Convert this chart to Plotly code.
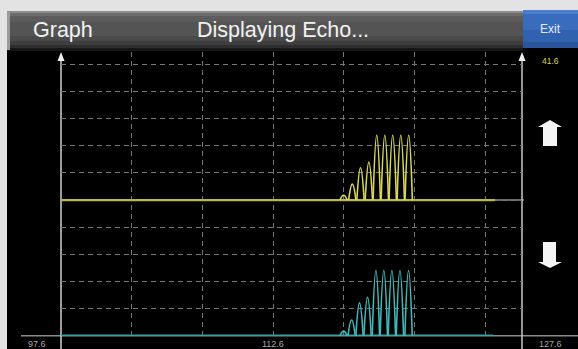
import numpy as np
import plotly.graph_objects as go

# ---- data -------------------------------------------------------------
x_start = 97.6
x_mid = 112.6
x_end = 127.6
x_tick_labels = ["97.6", "112.6", "127.6"]
gain_label = "41.6"

# upper (yellow) echo channel
yellow_offset = 5.0
yellow_trace_end = 128.3
yellow_lobe_x = [117.59, 118.21, 118.79, 119.38, 119.94, 120.51, 121.07, 121.64, 122.20]
yellow_lobe_amp = [0.18, 0.59, 1.19, 1.40, 2.39, 2.39, 2.39, 2.39, 2.39]

# lower (teal) echo channel
teal_offset = 0.0
teal_trace_end = 128.17
teal_lobe_x = [117.59, 118.16, 118.72, 119.29, 119.88, 120.44, 121.01, 121.58, 122.19]
teal_lobe_amp = [0.18, 0.59, 1.22, 1.42, 2.41, 2.41, 2.41, 2.41, 2.41]

lobe_half_width = 0.26

# ---- canvas geometry (pixels) ----------------------------------------
W, H = 578, 349
ML, MR, MT, MB = 61, 56, 52, 13
PW, PH = W - ML - MR, H - MT - MB
X_RANGE = [97.6, 97.6 + PW / 70.67 * 5]
Y_RANGE = [0, PH / 27.17]


def px(x):
    return (x - ML) / PW


def py(y):
    return (H - MB - y) / PH


def lobes(centers, amps, base):
    xs, ys = [], []
    for c, a in zip(centers, amps):
        xs += [c - lobe_half_width, c, c + lobe_half_width, None]
        ys += [base, base + a, base, None]
    return xs, ys


fig = go.Figure()

YELLOW = "#d8d858"
TEAL = "#45b8b8"

# baselines
fig.add_trace(go.Scatter(x=[x_start, yellow_trace_end], y=[yellow_offset, yellow_offset],
                         mode="lines", line=dict(color="#b9b948", width=2.2),
                         hoverinfo="skip", showlegend=False))
fig.add_trace(go.Scatter(x=[x_start, teal_trace_end], y=[teal_offset, teal_offset],
                         mode="lines", line=dict(color="#35a3a3", width=3),
                         hoverinfo="skip", showlegend=False))

# echo lobes
yx, yy = lobes(yellow_lobe_x, yellow_lobe_amp, yellow_offset)
fig.add_trace(go.Scatter(x=yx, y=yy, mode="lines", connectgaps=False,
                         line=dict(color=YELLOW, width=1.6, shape="spline", smoothing=1.3),
                         hoverinfo="skip", showlegend=False))
tx, ty = lobes(teal_lobe_x, teal_lobe_amp, teal_offset)
fig.add_trace(go.Scatter(x=tx, y=ty, mode="lines", connectgaps=False,
                         line=dict(color=TEAL, width=1.6, shape="spline", smoothing=1.3),
                         hoverinfo="skip", showlegend=False))

shapes = []


def rect(x0, y0, x1, y1, color, layer="above"):
    shapes.append(dict(type="rect", xref="paper", yref="paper",
                       x0=px(x0), x1=px(x1), y0=py(y1), y1=py(y0),
                       fillcolor=color, line=dict(width=0), layer=layer))


def hline(x0, x1, y, color, width):
    shapes.append(dict(type="line", xref="paper", yref="paper",
                       x0=px(x0), x1=px(x1), y0=py(y), y1=py(y),
                       line=dict(color=color, width=width), layer="below"))


def vline(x, y0, y1, color, width):
    shapes.append(dict(type="line", xref="paper", yref="paper",
                       x0=px(x), x1=px(x), y0=py(y0), y1=py(y1),
                       line=dict(color=color, width=width), layer="below"))


def poly(points, color):
    path = "M " + " L ".join(f"{px(a)},{py(b)}" for a, b in points) + " Z"
    shapes.append(dict(type="path", xref="paper", yref="paper", path=path,
                       fillcolor=color, line=dict(width=0), layer="above"))


# outer light frame
rect(0, 0, W, 11, "#e3e3e3")
rect(0, 0, 7, H, "#e3e3e3")

# title bar with vertical shading
bands = [(11, 13, "#8c8c8c"), (13, 16, "#6c6c6c"), (16, 22, "#5c5c5c"),
         (22, 36, "#545454"), (36, 41, "#4a4a4a"), (41, 45, "#3e3e3e"),
         (45, 48, "#2e2e2e"), (48, 51, "#161616")]
for y0, y1, c in bands:
    rect(7, y0, 523, y1, c)
rect(7, 12, 10, 50, "#9a9a9a")

# exit button
btn = [(10, 14, "#4a7fd0"), (14, 30, "#3a6cbd"), (30, 42, "#3162b0"), (42, 48, "#2a559c")]
for y0, y1, c in btn:
    rect(523, y0, W, y1, c)

# axes frame lines
hline(21, W, 335.7, "#8c8c8c", 1.5)
hline(61, 524, 200, "#8c8c8c", 1.5)
vline(61, 56, H, "#d0d0d0", 1.5)
vline(522, 56, H, "#c8c8c8", 1.5)

# axis arrowheads
for ax in (61, 522):
    poly([(ax - 3.5, 61), (ax, 52), (ax + 3.5, 61)], "#f0f0f0")

# gain up / down arrows
poly([(538, 127), (550, 120), (562, 127), (557, 127), (557, 146), (543, 146), (543, 127)], "#f4f4f4")
poly([(543, 242), (556, 242), (556, 262), (562, 262), (550, 268), (538, 262), (543, 262)], "#f4f4f4")

annotations = [
    dict(text="Graph", x=px(31), y=py(30), xanchor="left", yanchor="middle",
         font=dict(family="Liberation Sans", size=21.5, color="#f2f2f2")),
    dict(text="Displaying Echo...", x=px(195), y=py(30), xanchor="left", yanchor="middle",
         font=dict(family="Liberation Sans", size=21.5, color="#f2f2f2")),
    dict(text="Exit", x=px(550), y=py(29), xanchor="center", yanchor="middle",
         font=dict(family="Liberation Sans", size=12, color="#e4ebf7")),
    dict(text=gain_label, x=px(550), y=py(61), xanchor="center", yanchor="middle",
         font=dict(family="Liberation Sans", size=8.5, color="#d8d84a")),
    dict(text=x_tick_labels[0], x=px(37), y=py(344), xanchor="center", yanchor="middle",
         font=dict(family="Liberation Sans", size=9, color="#a8a8a8")),
    dict(text=x_tick_labels[1], x=x_mid, xref="x", y=py(344), xanchor="center", yanchor="middle",
         font=dict(family="Liberation Sans", size=9, color="#a8a8a8")),
    dict(text=x_tick_labels[2], x=px(550), y=py(344), xanchor="center", yanchor="middle",
         font=dict(family="Liberation Sans", size=9, color="#a8a8a8")),
]
for a in annotations:
    a.setdefault("xref", "paper")
    a["yref"] = "paper"
    a["showarrow"] = False

fig.update_layout(
    width=W, height=H,
    margin=dict(l=ML, r=MR, t=MT, b=MB, pad=0),
    paper_bgcolor="#000000", plot_bgcolor="#000000",
    shapes=shapes, annotations=annotations,
    xaxis=dict(range=X_RANGE, tick0=x_start, dtick=5, showgrid=True,
               gridcolor="#777777", gridwidth=1, griddash="5px,4px",
               showticklabels=False, zeroline=False, showline=False, ticks=""),
    yaxis=dict(range=Y_RANGE, tick0=0, dtick=1, showgrid=True,
               gridcolor="#777777", gridwidth=1, griddash="5px,4px",
               showticklabels=False, zeroline=False, showline=False, ticks=""),
)

fig.write_html("out.html")
